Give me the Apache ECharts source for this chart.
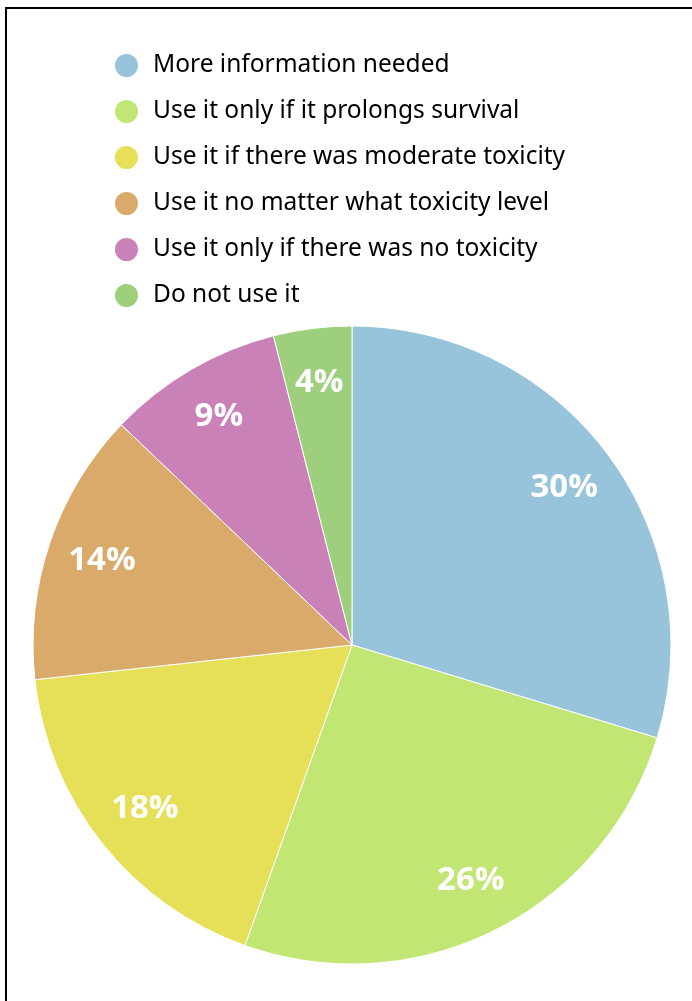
<!DOCTYPE html>
<html><head><meta charset="utf-8">
<script src="https://cdn.jsdelivr.net/npm/echarts@6/dist/echarts.min.js"></script>
<style>html,body{margin:0;padding:0;background:#fff}#c{width:692px;height:1001px}</style>
</head><body><div id="c"></div>
<script>
const categories = ["More information needed","Use it only if it prolongs survival","Use it if there was moderate toxicity","Use it no matter what toxicity level","Use it only if there was no toxicity","Do not use it"];
const values = [30,26,18,14,9,4];
const colors = ["#97c4db","#c1e674","#e5e057","#d9aa6a","#c981b7","#9dcf7d"];

const data = categories.map((n,i)=>({name:n,value:values[i],itemStyle:{color:colors[i]}}));
const chart = echarts.init(document.getElementById('c'),null,{renderer:'canvas'});
chart.setOption({
  animation:false,
  legend:{
    orient:'vertical', left:113, top:52, padding:0,
    icon:'circle', itemWidth:25, itemHeight:25, itemGap:19,
    textStyle:{fontFamily:'Noto Sans', fontSize:24.5, lineHeight:25, color:'#000', padding:[0,0,0,9]},
    data:categories
  },
  graphic:[
    {type:'line',shape:{x1:5,y1:8,x2:692,y2:8},style:{stroke:'#000',lineWidth:2}},
    {type:'line',shape:{x1:6,y1:7,x2:6,y2:1001},style:{stroke:'#000',lineWidth:2}}
  ],
  series:[
    {type:'pie',center:[352,645],radius:[0,319],startAngle:90,clockwise:true,
     label:{show:false},labelLine:{show:false},silent:true,
     itemStyle:{borderColor:'#fff',borderWidth:1},data:data},
    {type:'pie',center:[352,645],radius:[203,319],startAngle:90,clockwise:true,silent:true,
     itemStyle:{color:'rgba(0,0,0,0)',borderWidth:0},
     label:{show:true,position:'inside',formatter:'{c}%',color:'#fff',fontFamily:'Open Sans',fontWeight:'bold',fontSize:33},
     labelLine:{show:false},
     data:categories.map((n,i)=>({name:n,value:values[i],itemStyle:{color:'rgba(0,0,0,0)'}}))}
  ]
});
</script></body></html>
